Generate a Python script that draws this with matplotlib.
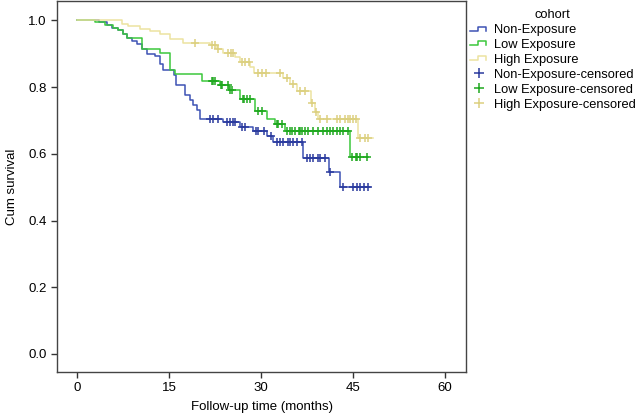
import numpy as np
import matplotlib
matplotlib.use("Agg")
import matplotlib.pyplot as plt
from matplotlib.lines import Line2D
from matplotlib.legend_handler import HandlerBase

plt.rcParams['font.family'] = ['Liberation Sans', 'DejaVu Sans']

# 曲线数据：事件时间与对应生存率（阶梯）
non_t = [0, 3.6, 4.9, 5.7, 6.7, 7.5, 8.2, 9.0, 9.8, 10.6, 11.4, 12.7, 13.5, 14.0,
         15.8, 16.2, 17.6, 18.4, 18.9, 19.6, 20.1, 23.8, 26.6, 28.7, 31.0, 32.0,
         36.9, 41.0, 42.9]
non_s = [1.0, 0.994, 0.985, 0.978, 0.970, 0.960, 0.948, 0.937, 0.930, 0.915, 0.900,
         0.892, 0.870, 0.850, 0.835, 0.805, 0.775, 0.760, 0.745, 0.730, 0.705, 0.695,
         0.680, 0.668, 0.653, 0.636, 0.586, 0.546, 0.499]
non_end = 47.8
non_cens = [21.7, 22.2, 23.0, 24.5, 25.0, 25.4, 25.8, 26.9, 27.4, 29.2, 29.5, 30.5,
            31.6, 32.6, 33.1, 33.6, 34.4, 34.7, 35.2, 35.9, 36.7, 37.5, 38.0, 38.5,
            39.2, 39.6, 40.5, 41.3, 43.4, 45.0, 45.7, 46.2, 46.7, 47.5]

low_t = [0, 2.9, 4.6, 5.9, 6.7, 7.5, 8.2, 10.6, 13.5, 15.2, 16.0, 20.4, 23.3, 24.8,
         26.6, 29.0, 31.0, 32.3, 33.9, 44.5]
low_s = [1.0, 0.994, 0.985, 0.978, 0.970, 0.960, 0.948, 0.913, 0.902, 0.850, 0.840,
         0.817, 0.805, 0.790, 0.765, 0.728, 0.705, 0.689, 0.668, 0.591]
low_end = 47.5
low_cens = [22.0, 22.2, 22.5, 23.5, 23.7, 24.6, 25.0, 25.3, 27.0, 27.2, 27.7, 28.2,
            29.5, 30.2, 32.6, 32.8, 33.4, 34.3, 34.7, 35.1, 35.6, 36.1, 36.4, 36.7,
            37.2, 37.7, 38.5, 39.3, 40.1, 40.8, 41.3, 41.8, 42.4, 42.9, 43.4, 44.2,
            44.9, 45.4, 45.7, 46.2, 47.3]

high_t = [0, 7.3, 8.3, 10.3, 11.9, 13.5, 15.2, 17.3, 21.7, 22.8, 23.8, 25.8, 26.6,
          28.2, 28.8, 33.6, 34.7, 35.9, 38.2, 38.8, 39.3, 45.8]
high_s = [1.0, 0.990, 0.983, 0.975, 0.967, 0.958, 0.944, 0.933, 0.925, 0.915, 0.903,
          0.890, 0.875, 0.860, 0.843, 0.826, 0.810, 0.788, 0.751, 0.725, 0.703, 0.646]
high_end = 48.3
high_cens = [19.2, 22.0, 22.5, 23.0, 24.6, 25.1, 25.4, 26.9, 27.4, 28.0, 29.5, 30.2,
             30.8, 33.1, 34.3, 35.2, 36.4, 37.2, 38.3, 38.9, 39.6, 40.8, 42.4, 42.9,
             43.7, 44.2, 44.5, 45.0, 45.5, 46.2, 47.0, 47.5]

cohorts = ["Non-Exposure", "Low Exposure", "High Exposure"]
line_cols = ["#3d52b4", "#3cc83c", "#ece3a0"]
mark_cols = ["#2b3b9e", "#1fa81f", "#dcd080"]

fig = plt.figure(figsize=(6.43, 4.18), dpi=100)
ax = fig.add_axes([0.0887, 0.11, 0.636, 0.887])

series = [(non_t, non_s, non_end, non_cens),
          (low_t, low_s, low_end, low_cens),
          (high_t, high_s, high_end, high_cens)]

for (t, s, end, cens), lc, mc in zip(series, line_cols, mark_cols):
    tt = np.append(t, end)
    ss = np.append(s, s[-1])
    ax.step(tt, ss, where="post", color=lc, lw=1.1)
    c = np.array(cens)
    idx = np.searchsorted(t, c, side="right") - 1
    ax.plot(c, np.array(s)[idx], ls="none", marker="+", ms=5.5, mew=1.1, color=mc)


class StepHandler(HandlerBase):
    def create_artists(self, legend, orig, xd, yd, w, h, fontsize, trans):
        x0 = -xd + w * 0.05
        y0 = -yd + h * 0.3
        xs = [x0, x0 + w * 0.4, x0 + w * 0.4, x0 + w * 0.8, x0 + w * 0.8]
        ys = [y0, y0, y0 + h * 0.45, y0 + h * 0.45, y0]
        ln = Line2D(xs, ys, color=orig.get_color(), lw=1.1, transform=trans)
        return [ln]


handles = [Line2D([], [], color=c) for c in line_cols]
handles += [Line2D([], [], ls="none", marker="+", ms=7, mew=1.1, color=c) for c in mark_cols]
labels = cohorts + [c + "-censored" for c in cohorts]
hmap = {h: StepHandler() for h in handles[:3]}
leg = ax.legend(handles, labels, title="cohort", handler_map=hmap, loc="upper left",
                bbox_to_anchor=(1.0, 0.985), frameon=False, fontsize=9.3,
                title_fontsize=9.3, handlelength=1.6, handletextpad=0.4,
                labelspacing=0.22, borderaxespad=0.0, borderpad=0.2)

ax.set_xlim(-3.26, 63.4)
ax.set_ylim(-0.054, 1.057)
ax.set_xticks([0, 15, 30, 45, 60])
ax.set_yticks([0, 0.2, 0.4, 0.6, 0.8, 1.0])
ax.set_yticklabels(["0.0", "0.2", "0.4", "0.6", "0.8", "1.0"])
ax.tick_params(direction="out", length=4, width=1, labelsize=9.5, color="#333333")
for sp in ax.spines.values():
    sp.set_color("#444444")
    sp.set_linewidth(1)
ax.set_xlabel("Follow-up time (months)", fontsize=9.5, labelpad=5)
ax.set_ylabel("Cum survival", fontsize=9.5, labelpad=7)

fig.savefig("out.png", dpi=100)
